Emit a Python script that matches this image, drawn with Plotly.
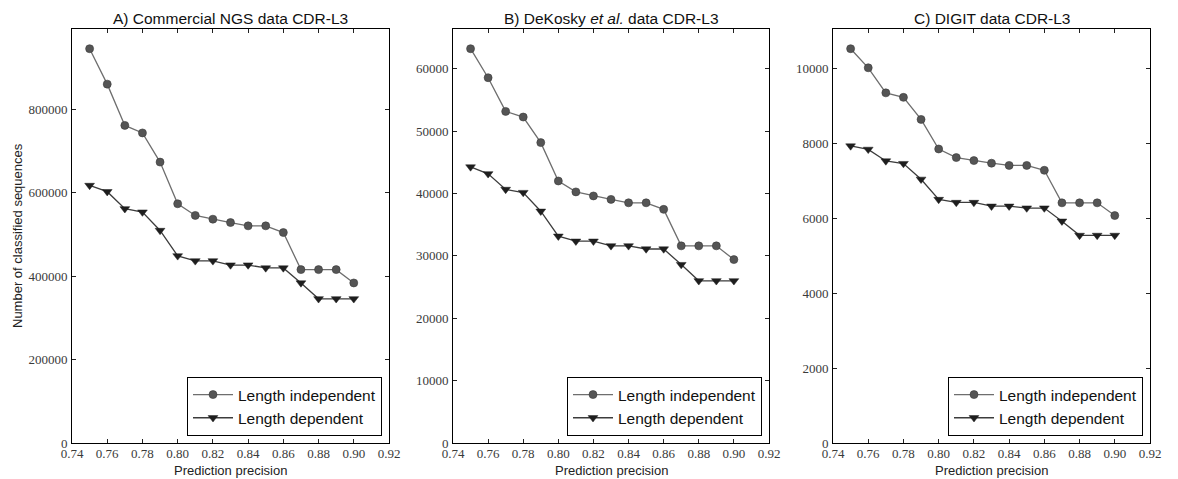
import plotly.graph_objects as go

# Prediction precision thresholds shared by all three panels
precision = [0.75, 0.76, 0.77, 0.78, 0.79, 0.80, 0.81, 0.82,
             0.83, 0.84, 0.85, 0.86, 0.87, 0.88, 0.89, 0.90]

# A) Commercial NGS data
ngs_independent = [946000, 861000, 762000, 744000, 674000, 574000, 546000, 537000,
                   529000, 521000, 521000, 505000, 416000, 416000, 416000, 384000]
ngs_dependent = [618000, 603000, 562000, 554000, 510000, 449000, 437000, 437000,
                 427000, 427000, 420000, 420000, 384000, 346000, 346000, 346000]

# B) DeKosky et al. data
dekosky_independent = [63200, 58550, 53150, 52250, 48150, 42000, 40250, 39600,
                       39050, 38500, 38500, 37450, 31600, 31600, 31600, 29400]
dekosky_dependent = [44250, 43150, 40650, 40150, 37150, 33150, 32350, 32350,
                     31600, 31600, 31100, 31100, 28600, 26000, 26000, 26000]

# C) DIGIT data
digit_independent = [10540, 10030, 9360, 9240, 8650, 7860, 7630, 7550,
                     7480, 7420, 7420, 7290, 6420, 6420, 6420, 6080]
digit_dependent = [7940, 7850, 7540, 7470, 7050, 6510, 6430, 6430,
                   6330, 6330, 6280, 6280, 5930, 5550, 5550, 5550]

panel_titles = ["A) Commercial NGS data CDR-L3",
                "B) DeKosky <i>et al.</i> data CDR-L3",
                "C) DIGIT data CDR-L3"]
series_names = ["Length independent", "Length dependent"]
y_steps = [200000, 10000, 2000]
x_ticks = [0.74, 0.76, 0.78, 0.80, 0.82, 0.84, 0.86, 0.88, 0.90, 0.92]

panels = [(ngs_independent, ngs_dependent),
          (dekosky_independent, dekosky_dependent),
          (digit_independent, digit_dependent)]

W, H = 1178, 479
x_domains_px = [(72, 389), (453, 769), (833, 1150)]
top_px, bottom_px = 29, 443

LINE = "#6e6e6e"
SANS = "Liberation Sans"
SERIF = "'Liberation Serif', 'DejaVu Serif', serif"

fig = go.Figure()
layout = dict(
    template="none",
    width=W, height=H,
    margin=dict(l=0, r=0, t=0, b=0, pad=0),
    paper_bgcolor="white", plot_bgcolor="white",
    font=dict(family=SANS, color="#222222"),
    showlegend=True,
    annotations=[],
)

for i, ((indep, dep), (x0, x1)) in enumerate(zip(panels, x_domains_px)):
    n = "" if i == 0 else str(i + 1)
    legend_id = "legend" + n
    fig.add_trace(go.Scatter(
        x=precision, y=indep, name=series_names[0], mode="lines+markers",
        xaxis="x" + n, yaxis="y" + n, legend=legend_id,
        line=dict(color=LINE, width=1.3),
        marker=dict(symbol="circle", size=8, color="#555555",
                    line=dict(color="#3a3a3a", width=0.6)),
    ))
    fig.add_trace(go.Scatter(
        x=precision, y=dep, name=series_names[1], mode="lines+markers",
        xaxis="x" + n, yaxis="y" + n, legend=legend_id,
        line=dict(color="#3c3c3c", width=1.3),
        marker=dict(symbol="triangle-down", size=8.5, color="#1e1e1e",
                    line=dict(color="#1e1e1e", width=0.5)),
    ))

    ymax = max(indep) * 1.05
    tick_font = dict(family=SERIF, size=13, color="#3a3a3a")
    axis_common = dict(
        automargin=False,
        showline=True, linecolor="black", linewidth=1, mirror="ticks",
        ticks="inside", ticklen=4, tickwidth=1, tickcolor="#222222",
        showgrid=False, zeroline=False,
    )
    layout["xaxis" + n] = dict(
        axis_common, domain=[x0 / W, x1 / W], range=[0.74, 0.92],
        tickmode="array", tickvals=x_ticks,
        ticktext=[f"{v:.2f}" for v in x_ticks],
        tickfont=tick_font,
        anchor="y" + n, ticklabelstandoff=-2,
    )
    layout["yaxis" + n] = dict(
        axis_common, domain=[1 - bottom_px / H, 1 - top_px / H],
        range=[0, ymax], dtick=y_steps[i], tickformat="d",
        tickfont=tick_font,
        anchor="x" + n, ticklabelstandoff=1,
    )
    layout[legend_id] = dict(
        x=(x1 - 7) / W, y=1 - 436 / H, xanchor="right", yanchor="bottom",
        bgcolor="white", bordercolor="black", borderwidth=1,
        font=dict(family=SANS, size=15.5, color="#111111"),
        tracegroupgap=0, itemwidth=40,
    )
    cx = (x0 + x1) / 2 / W
    layout["annotations"].append(dict(
        text=panel_titles[i], x=cx, y=1 - 18 / H, xref="paper", yref="paper",
        showarrow=False, xanchor="center", yanchor="middle",
        font=dict(family=SANS, size=15.5, color="#111111"),
    ))
    layout["annotations"].append(dict(
        text="Prediction precision", x=cx, y=1 - 470 / H,
        xref="paper", yref="paper", showarrow=False,
        xanchor="center", yanchor="middle",
        font=dict(family=SANS, size=13, color="#222222"),
    ))

layout["annotations"].append(dict(
    text="Number of classified sequences", x=17 / W, y=1 - 236 / H,
    xref="paper", yref="paper", showarrow=False, textangle=-90,
    xanchor="center", yanchor="middle",
    font=dict(family=SANS, size=13, color="#222222"),
))

fig.update_layout(layout)
fig.write_html("out.html")
